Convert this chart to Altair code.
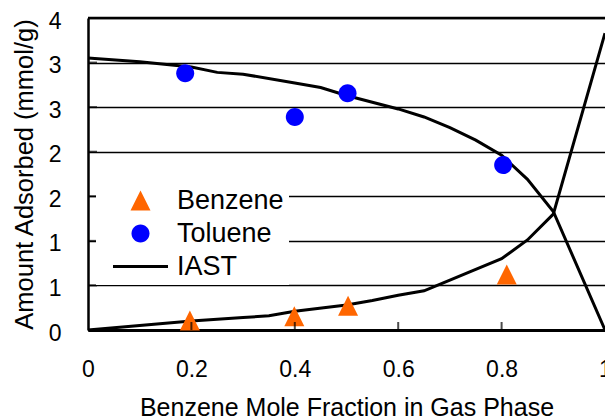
import altair as alt
import pandas as pd

# Measured adsorption (mmol/g) vs benzene mole fraction in the gas phase
benzene_x = [0.197, 0.399, 0.503, 0.81]
benzene_y = [0.107, 0.155, 0.271, 0.623]
toluene_x = [0.188, 0.400, 0.502, 0.803]
toluene_y = [2.88, 2.39, 2.655, 1.85]

# IAST predictions
iast_tol_x = [0, 0.1, 0.2, 0.25, 0.3, 0.4, 0.45, 0.5, 0.6, 0.65, 0.7, 0.75, 0.8, 0.85, 0.9, 1.0]
iast_tol_y = [3.05, 3.01, 2.95, 2.89, 2.87, 2.77, 2.72, 2.63, 2.48, 2.39, 2.27, 2.13, 1.96, 1.69, 1.33, 0.0]
iast_ben_x = [0, 0.1, 0.2, 0.3, 0.35, 0.4, 0.5, 0.55, 0.6, 0.65, 0.7, 0.75, 0.8, 0.85, 0.9, 1.0]
iast_ben_y = [0, 0.05, 0.10, 0.14, 0.16, 0.21, 0.28, 0.33, 0.39, 0.44, 0.56, 0.68, 0.80, 1.01, 1.30, 3.33]

x_ticks = [0, 0.2, 0.4, 0.6, 0.8, 1.0]
x_inner_ticks = [0.2, 0.4, 0.6, 0.8]
y_ticks = [0, 0.5, 1.0, 1.5, 2.0, 2.5, 3.0, 3.5]
y_top = 3.5

series = ["Benzene", "Toluene", "IAST"]
series_colors = ["#FF6600", "#0000FF", "#000000"]
series_shapes = [
    "M0,-1L1,1L-1,1Z",
    "M0,-0.9A0.9,0.9,0,1,1,0,0.9A0.9,0.9,0,1,1,0,-0.9Z",
    "M-2.75,-0.16H2.75V0.16H-2.75Z",
]

FONT = "Liberation Sans"
X_TITLE = "Benzene Mole Fraction in Gas Phase"
Y_TITLE = "Amount Adsorbed (mmol/g)"

points = pd.DataFrame(
    {
        "x": benzene_x + toluene_x,
        "y": benzene_y + toluene_y,
        "series": ["Benzene"] * len(benzene_x) + ["Toluene"] * len(toluene_x),
    }
)
curves = pd.DataFrame(
    {
        "x": iast_tol_x + iast_ben_x,
        "y": iast_tol_y + iast_ben_y,
        "curve": ["toluene"] * len(iast_tol_x) + ["benzene"] * len(iast_ben_x),
    }
)
# inward tick marks along the bottom and left axes
xt = pd.DataFrame({"x": x_inner_ticks, "y": [0.0] * len(x_inner_ticks)})
yt = pd.DataFrame({"x": [0.0] * (len(y_ticks) - 1), "y": y_ticks[1:]})
top = pd.DataFrame({"x": [0.0], "y": [y_top]})

xs = alt.Scale(domain=[0, 1], nice=False, zero=False)
ys = alt.Scale(domain=[0, y_top], nice=False, zero=False)

x_axis = alt.Axis(
    values=x_ticks,
    format="~g",
    grid=False,
    ticks=False,
    tickSize=0,
    domainColor="black",
    domainWidth=3,
    labelFont=FONT,
    labelFontSize=23,
    labelColor="black",
    labelBaseline="alphabetic",
    labelPadding=46,
    labelFlush=False,
    title=X_TITLE,
    titleFont=FONT,
    titleFontSize=25,
    titleFontWeight="normal",
    titleColor="black",
    titleBaseline="alphabetic",
    titleY=85,
)
y_axis = alt.Axis(
    values=y_ticks,
    labelExpr="round(datum.value)",
    grid=True,
    gridColor="black",
    gridWidth=1.4,
    gridOpacity=1,
    ticks=False,
    tickSize=0,
    domainColor="black",
    domainWidth=2.5,
    labelFont=FONT,
    labelFontSize=23,
    labelColor="black",
    labelPadding=27,
    labelOffset=3,
    title=Y_TITLE,
    titleFont=FONT,
    titleFontSize=25.5,
    titleFontWeight="normal",
    titleColor="black",
    titleBaseline="middle",
    titleAlign="center",
    titleX=-64,
    titleY=156,
)


def X():
    return alt.X("x:Q", scale=xs, axis=x_axis, title=X_TITLE)


def Y():
    return alt.Y("y:Q", scale=ys, axis=y_axis, title=Y_TITLE)


lines = (
    alt.Chart(curves)
    .mark_line(color="black", strokeWidth=3)
    .encode(x=X(), y=Y(), detail="curve:N", order=alt.Order("x:Q"))
)

top_rule = alt.Chart(top).mark_rule(color="black", strokeWidth=2.5).encode(y=Y())

x_tick_marks = (
    alt.Chart(xt)
    .mark_tick(orient="vertical", size=8, thickness=2, color="black", yOffset=-4)
    .encode(x=X(), y=Y())
)
y_tick_marks = (
    alt.Chart(yt)
    .mark_tick(orient="horizontal", size=9, thickness=2, color="black", xOffset=4.5)
    .encode(x=X(), y=Y())
)

legend = alt.Legend(
    title=None,
    orient="none",
    legendX=8,
    legendY=164,
    fillColor="white",
    padding=5,
    symbolSize=400,
    symbolOffset=26,
    labelOffset=23,
    labelFont=FONT,
    labelFontSize=27,
    labelColor="black",
    rowPadding=5,
)

marks = (
    alt.Chart(points)
    .mark_point(filled=True, size=400, opacity=1)
    .encode(
        x=X(),
        y=Y(),
        color=alt.Color(
            "series:N",
            scale=alt.Scale(domain=series, range=series_colors),
            legend=legend,
        ),
        shape=alt.Shape(
            "series:N",
            scale=alt.Scale(domain=series, range=series_shapes),
            legend=legend,
        ),
    )
)

chart = (
    alt.layer(lines, top_rule, marks, x_tick_marks, y_tick_marks)
    .properties(
        width=517,
        height=312,
        padding={"left": 88, "top": 18, "right": 0, "bottom": 89},
        autosize=alt.AutoSizeParams(type="none"),
        background="white",
    )
    .configure_view(stroke=None)
)

chart.save("out.html", embed_options={"renderer": "svg", "actions": False})
